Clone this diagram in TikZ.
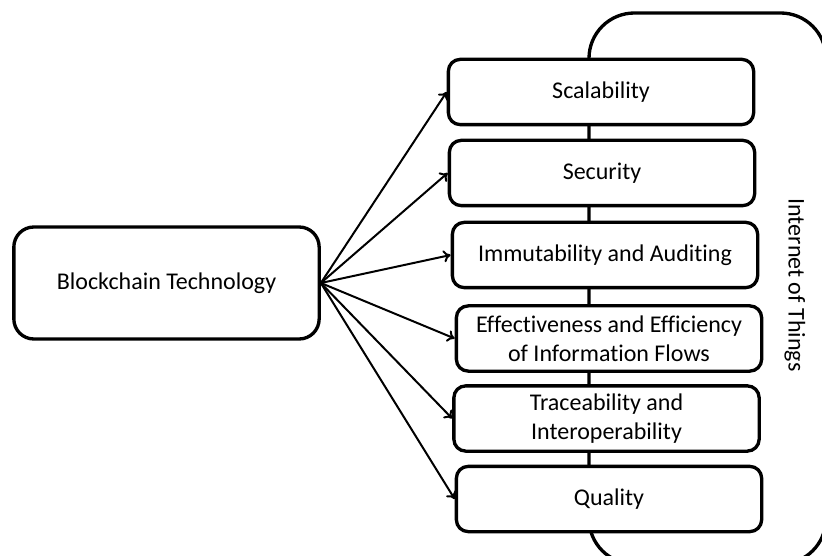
\documentclass[tikz,border=0pt]{standalone}
\usepackage{fontspec}
\setmainfont{Carlito}[Ligatures={NoCommon}]
\usetikzlibrary{arrows.meta}
\usetikzlibrary{positioning}

\begin{document}
\begin{tikzpicture}[x=0.75pt, y=-0.75pt,
      box/.style={rectangle,draw,fill=white,line width=2.5pt,rounded corners=9pt,
        minimum width=229pt,minimum height=49pt,align=center,
        font=\fontsize{18}{22}\selectfont,inner sep=0pt},
      bigbox/.style={draw,line width=2.5pt,rounded corners=34pt},
      link/.style={>={To[length=5.5pt,width=9pt]},->,line width=1.5pt},
      label/.style={font=\fontsize{18}{22}\selectfont},
  ]
  \useasboundingbox (0,0) rectangle (822,556);
  \clip (0,0) rectangle (822,556);

  % Internet of Things frame
  \draw[bigbox] (589,13) coordinate (iotleft) rectangle (826,564) coordinate (iotright);
  \node[label, rotate=-90] (iot) at (795,285) {Internet of Things};

  % source
  \node[box, rounded corners=15pt, minimum width=229pt, minimum height=84pt] (chain) at (166.5,283) {Blockchain Technology};

  % benefits
  \node[box] (scal) at (601,92) {Scalability};
  \node[box] (secu) at (602,173) {Security};
  \node[box] (immu) at (605,255) {Immutability and Auditing};
  \node[box] (effe) at (609,338.5) {Effectiveness and Efficiency\\of Information Flows};
  \node[box] (trac) at (606.5,418.5) {Traceability and\\Interoperability};
  \node[box] (qual) at (609,499) {Quality};

  % arrows
  \draw[link] (chain.east) -- (scal.west);
  \draw[link] (chain.east) -- (secu.west);
  \draw[link] (chain.east) -- (immu.west);
  \draw[link] (chain.east) -- (effe.west);
  \draw[link] (chain.east) -- (trac.west);
  \draw[link] (chain.east) -- (qual.west);
\end{tikzpicture}
\end{document}
